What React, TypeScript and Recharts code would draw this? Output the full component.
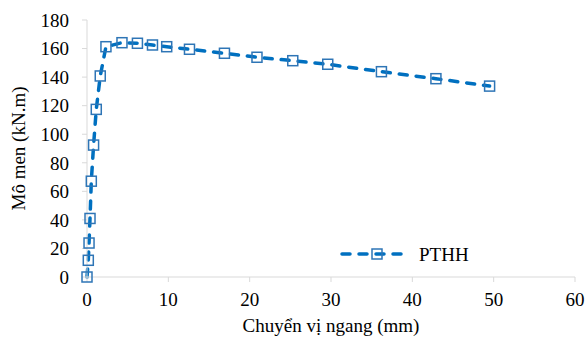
import React from 'react';
import { LineChart, Line, XAxis, YAxis, Label } from 'recharts';

// displacement (mm) and moment (kN.m)
const dispMm = [0, 0.16, 0.25, 0.37, 0.53, 0.81, 1.14, 1.63, 2.33, 4.3, 6.2, 8.05, 9.8, 12.6, 16.9, 20.9, 25.3, 29.6, 36.2, 42.9, 49.5];
const momentKNm = [0, 11.7, 23.8, 41, 67.1, 92.4, 117.4, 140.8, 161.3, 164.1, 163.7, 162.5, 161.3, 159.5, 156.7, 153.9, 151.5, 149, 143.8, 138.9, 133.7];
const xTicks = [0, 10, 20, 30, 40, 50, 60];
const yTicks = [0, 20, 40, 60, 80, 100, 120, 140, 160, 180];
const seriesName = 'PTHH';

const LINE_COLOR = '#0070c0';
const MARKER_COLOR = '#2e75b6';
const AXIS_COLOR = '#d9d9d9';
const FONT = '"Liberation Serif", "Times New Roman", serif';
const FONT_SIZE = 19;

const data = dispMm.map((x, i) => ({ x, y: momentKNm[i] }));

const SquareDot = (props: any) => {
  const { cx, cy } = props;
  if (cx == null || cy == null) return null;
  return (
    <rect x={cx - 5} y={cy - 5} width={10} height={10} fill="none" stroke={MARKER_COLOR} strokeWidth={1.5} />
  );
};

// legend drawn as an overlay so it doesn't shrink the plot area
const LegendBox = () => (
  <svg width={150} height={26} style={{ position: 'absolute', left: 340, top: 243 }}>
    <line x1={2} y1={11} x2={70} y2={11} stroke={LINE_COLOR} strokeWidth={3.5} strokeDasharray="8 9" strokeLinecap="round" />
    <rect x={32} y={6} width={10} height={10} fill="none" stroke={MARKER_COLOR} strokeWidth={1.5} />
    <text x={79} y={18} fontFamily={FONT} fontSize={FONT_SIZE} fill="#000">{seriesName}</text>
  </svg>
);

export default function App() {
  return (
    <div style={{ position: 'absolute', left: 0, top: 0, width: 588, height: 338, background: '#fff' }}>
      <LineChart width={588} height={338} data={data} margin={{ top: 20, right: 13, bottom: 0, left: 0 }}>
        <XAxis
          dataKey="x"
          type="number"
          domain={[0, 60]}
          ticks={xTicks}
          height={61}
          stroke={AXIS_COLOR}
          tickSize={5}
          tick={{ fill: '#000', fontFamily: FONT, fontSize: FONT_SIZE }}
          tickMargin={11}
        >
          <Label value="Chuyển vị ngang (mm)" position="insideBottom" offset={6} style={{ fill: '#000', fontFamily: FONT, fontSize: FONT_SIZE }} />
        </XAxis>
        <YAxis
          type="number"
          domain={[0, 180]}
          ticks={yTicks}
          width={87}
          stroke={AXIS_COLOR}
          tickSize={5}
          tick={{ fill: '#000', fontFamily: FONT, fontSize: FONT_SIZE }}
          tickMargin={13}
        >
          <Label value="Mô men (kN.m)" angle={-90} position="insideLeft" offset={18} style={{ textAnchor: 'middle', fill: '#000', fontFamily: FONT, fontSize: FONT_SIZE }} />
        </YAxis>
        <Line
          dataKey="y"
          name={seriesName}
          type="linear"
          stroke={LINE_COLOR}
          strokeWidth={3.5}
          strokeDasharray="8 9"
          strokeLinecap="round"
          dot={<SquareDot />}
          activeDot={false}
          isAnimationActive={false}
        />
      </LineChart>
      <LegendBox />
    </div>
  );
}
